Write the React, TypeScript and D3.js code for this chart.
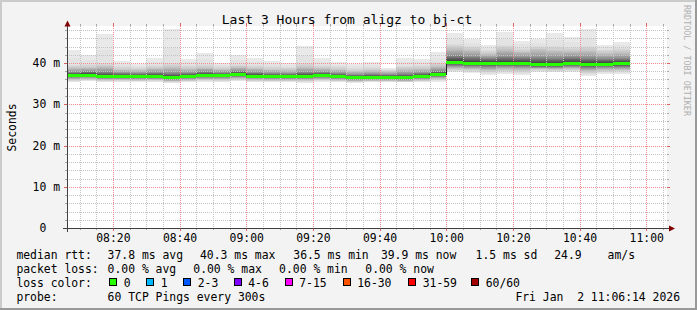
import React from "react";
import * as d3 from "d3";

// ---------- data ----------
const barEnds = [
  "08:10", "08:15", "08:20", "08:25", "08:30", "08:35", "08:40", "08:45", "08:50", "08:55",
  "09:00", "09:05", "09:10", "09:15", "09:20", "09:25", "09:30", "09:35", "09:40", "09:45",
  "09:50", "09:55", "10:00", "10:05", "10:10", "10:15", "10:20", "10:25", "10:30", "10:35",
  "10:40", "10:45", "10:50", "10:55",
];
const medianMs = [37.0, 37.2, 36.8, 36.8, 36.8, 36.8, 36.5, 36.8, 37.0, 37.0, 37.3, 36.9, 36.8, 36.8, 36.8, 37.0, 36.8, 36.5, 36.6, 36.6, 36.5, 36.8, 37.3, 40.3, 40.0, 40.0, 40.0, 40.0, 39.7, 39.7, 40.0, 39.7, 39.8, 39.9];
const maxMs = [43.1, 41.9, 47.0, 40.6, 39.8, 41.3, 48.3, 41.0, 42.5, 40.1, 42.0, 41.3, 40.5, 40.1, 44.1, 41.3, 40.2, 39.8, 40.2, 38.8, 41.3, 41.0, 42.7, 47.3, 45.9, 44.3, 47.5, 45.4, 45.9, 47.3, 46.3, 48.3, 44.4, 45.1];
const p97Ms = [39.6, 39.8, 40.0, 39.3, 39.0, 39.6, 40.0, 39.5, 39.8, 39.2, 39.8, 39.5, 39.3, 39.1, 40.0, 39.6, 39.2, 38.8, 39.1, 38.4, 39.4, 39.5, 40.2, 44.6, 44.2, 43.2, 44.5, 43.8, 44.2, 44.2, 44.0, 44.3, 43.3, 43.6];
const p90Ms = [38.8, 38.9, 39.2, 38.4, 38.3, 38.7, 39.0, 38.6, 38.9, 38.5, 39.0, 38.7, 38.4, 38.3, 39.0, 38.7, 38.4, 38.0, 38.2, 37.9, 38.5, 38.6, 39.2, 43.6, 43.2, 42.3, 43.4, 42.8, 43.3, 43.0, 42.9, 43.0, 42.4, 42.6];
const p75Ms = [37.8, 38.0, 37.9, 37.6, 37.5, 37.7, 37.6, 37.6, 37.9, 37.7, 38.1, 37.7, 37.5, 37.4, 37.8, 37.8, 37.5, 37.2, 37.3, 37.2, 37.4, 37.6, 38.1, 41.9, 41.6, 41.2, 41.6, 41.4, 41.4, 41.3, 41.5, 41.3, 41.1, 41.2];
const p25Ms = [36.5, 36.6, 36.3, 36.3, 36.3, 36.3, 36.0, 36.3, 36.5, 36.5, 36.7, 36.4, 36.3, 36.3, 36.3, 36.5, 36.3, 36.0, 36.1, 36.1, 36.0, 36.3, 36.7, 39.3, 39.2, 39.0, 39.2, 39.1, 38.9, 38.9, 39.2, 38.8, 39.0, 39.0];
const p10Ms = [36.0, 36.1, 35.9, 35.9, 35.8, 35.9, 35.6, 35.8, 36.0, 36.0, 36.2, 35.9, 35.8, 35.8, 35.8, 36.0, 35.8, 35.6, 35.7, 35.7, 35.6, 35.8, 36.2, 38.6, 38.5, 38.2, 38.4, 38.3, 38.6, 38.5, 38.6, 38.0, 38.3, 38.3];
const p03Ms = [35.6, 35.8, 35.5, 35.6, 35.6, 35.6, 35.3, 35.5, 35.7, 35.6, 35.8, 35.5, 35.5, 35.6, 35.4, 35.7, 35.6, 35.4, 35.5, 35.5, 35.4, 35.6, 35.8, 38.1, 37.9, 37.6, 37.8, 37.6, 38.1, 38.0, 38.1, 37.3, 37.7, 37.8];
const minMs = [35.4, 35.6, 35.3, 35.4, 35.5, 35.4, 35.1, 35.3, 35.5, 35.4, 35.6, 35.3, 35.3, 35.4, 35.2, 35.5, 35.4, 35.2, 35.3, 35.4, 35.3, 35.4, 35.5, 37.8, 37.6, 37.2, 37.4, 37.2, 37.8, 37.7, 37.8, 36.8, 37.4, 37.4];

const xTickLabels = ["08:20", "08:40", "09:00", "09:20", "09:40", "10:00", "10:20", "10:40", "11:00"];
const yTickValues = [0, 10, 20, 30, 40];
const yTickLabels = ["0\u00a0\u00a0", "10 m", "20 m", "30 m", "40 m"];
const lossLabels = ["0", "1", "2-3", "4-6", "7-15", "16-30", "31-59", "60/60"];
const lossColors = ["#26ff00", "#00b8ff", "#0059ff", "#7e00ff", "#ff00ff", "#ff5500", "#ff0000", "#a00000"];

const title = "Last 3 Hours from aligz to bj-ct";
const rttRow: [string, number][] = [
  ["median rtt:", 16.4], ["37.8 ms avg", 107.6], ["40.3 ms max", 200], ["36.5 ms min", 293.3],
  ["39.9 ms now", 380.9], ["1.5 ms sd", 475.6], ["24.9", 554.2], ["am/s", 607.6],
];
const lossRow: [string, number][] = [
  ["packet loss:", 16.4], ["0.00 % avg", 107.6], ["0.00 % max", 193.3], ["0.00 % min", 279.1], ["0.00 % now", 365.3],
];
const lossBoxX = [109, 146, 183, 233.5, 284.5, 342.5, 408, 471];
const probeText = "60 TCP Pings every 300s";
const dateText = "Fri Jan \u00a02 11:06:14 2026";

// ---------- layout ----------
const W = 697, H = 310;
const PL = 67, PR = 667, PB = 228, PT = 26;
const FONT = "'DejaVu Sans Mono', monospace";
const toDate = (hm: string, s = 0) => {
  const [h, m] = hm.split(":").map(Number);
  return new Date(2026, 0, 2, h, m, s);
};

export default function App() {
  const t0 = toDate("08:06", 14);
  const t1 = toDate("11:06", 14);
  const x = d3.scaleTime().domain([t0, t1]).range([PL, PR]);
  const y = d3.scaleLinear().domain([0, 49]).range([PB, PB - 49 * 4.125]);
  const qP = [0, 0.03, 0.1, 0.25, 0.5, 0.75, 0.9, 0.97, 1];

  const bars = barEnds.map((t, i) => {
    const end = toDate(t);
    const start = new Date(end.getTime() - 300000);
    const q = d3.scaleLinear().domain(qP).range([
      minMs[i], p03Ms[i], p10Ms[i], p25Ms[i], medianMs[i], p75Ms[i], p90Ms[i], p97Ms[i], maxMs[i],
    ]);
    return { x0: Math.max(x(start), PL), x1: x(end), q, med: medianMs[i] };
  });

  const half = 30;
  const smoke: any[] = [];
  for (let k = 1; k <= half; k++) {
    const g = Math.floor((190 / half) * (half - k)) + 50;
    const col = `rgb(${g},${g},${g})`;
    const p = (k - 1) / 59;
    bars.forEach((b, i) => {
      const lo = b.q(p), hi = b.q(1 - p);
      const yt = Math.round(y(hi)), yb = Math.round(y(lo));
      smoke.push(
        <rect key={`s${k}-${i}`} x={Math.round(b.x0)} width={Math.round(b.x1) - Math.round(b.x0)}
          y={yt} height={Math.max(yb - yt, 1)} fill={col} />
      );
    });
  }

  const fiveMin = x.ticks(d3.timeMinute.every(5) as any);
  const vMinor = fiveMin.filter((d: Date) => d.getMinutes() % 20 !== 0);
  const vMajor = fiveMin.filter((d: Date) => d.getMinutes() % 20 === 0);
  const hMinor = d3.range(2, 49, 2).filter((v) => v % 10 !== 0);
  const hMajor = [10, 20, 30, 40];
  const px = (v: number) => Math.round(v) + 0.5;

  let medPath = "";
  bars.forEach((b, i) => {
    const yy = Math.round(y(b.med)) + 0.5;
    medPath += i === 0 ? `M${b.x0},${yy}` : `V${yy}`;
    medPath += `H${b.x1}`;
  });

  return (
    <svg width={W} height={H} style={{ position: "absolute", left: 0, top: 0, display: "block" }}
      fontFamily={FONT}>
      <rect x={0} y={0} width={W} height={H} fill="#f3f3f3" />
      <rect x={0} y={0} width={W} height={2} fill="#cbcbcb" />
      <rect x={0} y={0} width={2} height={H} fill="#cbcbcb" />
      <rect x={0} y={H - 2} width={W} height={2} fill="#999999" />
      <rect x={W - 2} y={0} width={2} height={H} fill="#999999" />

      <rect x={PL} y={PT} width={PR - PL} height={PB - PT} fill="#ffffff" />

      <g shapeRendering="crispEdges">{smoke}</g>

      {/* grid */}
      <g strokeDasharray="1,1" strokeWidth={1} shapeRendering="crispEdges">
        {hMinor.map((v) => (
          <line key={`hm${v}`} x1={PL} x2={PR} y1={px(y(v))} y2={px(y(v))} stroke="#c4c4c4" />
        ))}
        {vMinor.map((d: Date, i: number) => (
          <line key={`vm${i}`} x1={px(x(d))} x2={px(x(d))} y1={PT} y2={PB} stroke="#c4c4c4" />
        ))}
        {hMajor.map((v) => (
          <line key={`hM${v}`} x1={PL} x2={PR} y1={px(y(v))} y2={px(y(v))} stroke="#ef8c8c" />
        ))}
        {vMajor.map((d: Date, i: number) => (
          <line key={`vM${i}`} x1={px(x(d))} x2={px(x(d))} y1={PT} y2={PB} stroke="#ef8c8c" />
        ))}
      </g>

      {/* median */}
      <path d={medPath} fill="none" stroke="#202020" strokeWidth={1} shapeRendering="crispEdges" />
      <g shapeRendering="crispEdges">
        {bars.map((b, i) => (
          <rect key={`m${i}`} x={Math.round(b.x0)} width={Math.round(b.x1) - Math.round(b.x0)}
            y={Math.round(y(b.med)) - 1} height={3} fill={lossColors[0]} />
        ))}
      </g>

      {/* ticks */}
      <g shapeRendering="crispEdges" strokeWidth={1}>
        {hMinor.map((v) => (
          <g key={`th${v}`} stroke="#a8a8a8">
            <line x1={PL - 2} x2={PL} y1={px(y(v))} y2={px(y(v))} />
            <line x1={PR} x2={PR + 2} y1={px(y(v))} y2={px(y(v))} />
          </g>
        ))}
        {hMajor.map((v) => (
          <g key={`tH${v}`} stroke="#e06060">
            <line x1={PL - 3} x2={PL} y1={px(y(v))} y2={px(y(v))} />
            <line x1={PR} x2={PR + 3} y1={px(y(v))} y2={px(y(v))} />
          </g>
        ))}
        {vMinor.map((d: Date, i: number) => (
          <g key={`tv${i}`} stroke="#a8a8a8">
            <line x1={px(x(d))} x2={px(x(d))} y1={PB} y2={PB + 2} />
            <line x1={px(x(d))} x2={px(x(d))} y1={PT - 2} y2={PT} />
          </g>
        ))}
        {vMajor.map((d: Date, i: number) => (
          <g key={`tV${i}`} stroke="#e06060">
            <line x1={px(x(d))} x2={px(x(d))} y1={PB} y2={PB + 3} />
            <line x1={px(x(d))} x2={px(x(d))} y1={PT - 3} y2={PT} />
          </g>
        ))}
      </g>

      {/* axes */}
      <g shapeRendering="crispEdges" stroke="#404040" strokeWidth={1}>
        <line x1={PL - 4} x2={PR + 3} y1={PB + 0.5} y2={PB + 0.5} />
        <line x1={PL + 0.5} x2={PL + 0.5} y1={PB + 4} y2={PT - 1} />
      </g>
      <path d={`M${PL + 0.5 - 3},${PT + 0.5} L${PL + 0.5 + 3},${PT + 0.5} L${PL + 0.5},${PT - 5.5} Z`} fill="#800000" />
      <path d={`M${PR + 2},${PB + 0.5 - 3} L${PR + 2},${PB + 0.5 + 3} L${PR + 8},${PB + 0.5} Z`} fill="#800000" />

      {/* axis labels */}
      <g fontSize={11.4} fill="#000">
        {yTickValues.map((v, i) => (
          <text key={`yl${v}`} x={60} y={y(v) + 4} textAnchor="end">
            {yTickLabels[i]}
          </text>
        ))}
        {xTickLabels.map((l) => (
          <text key={`xl${l}`} x={x(toDate(l)) + 0.5} y={241.5} textAnchor="middle">{l}</text>
        ))}
      </g>

      <text x={347} y={23.5} textAnchor="middle" fontSize={13} fill="#000">{title}</text>
      <text transform="translate(15.5,127.5) rotate(-90)" textAnchor="middle" fontSize={11.4} fill="#000">Seconds</text>
      <text transform="translate(684,5) rotate(90)" fontSize={8.4} fill="#b0b0b0">RRDTOOL / TOBI OETIKER</text>

      {/* legend */}
      <g fontSize={11.4} fill="#000">
        {rttRow.map(([s, xx]) => (
          <text key={`r${s}`} x={xx} y={258.5}>{s}</text>
        ))}
        {lossRow.map(([s, xx]) => (
          <text key={`p${s}`} x={xx} y={272.5}>{s}</text>
        ))}
        <text x={16.4} y={286.5}>loss color:</text>
        {lossLabels.map((l, i) => (
          <g key={`lc${l}`}>
            <rect x={lossBoxX[i] + 0.5} y={278.5} width={7} height={7} fill={lossColors[i]} stroke="#000"
              strokeWidth={1} shapeRendering="crispEdges" />
            <text x={lossBoxX[i] + 14.7} y={286.5}>{l}</text>
          </g>
        ))}
        <text x={16.4} y={300.5}>probe:</text>
        <text x={107.6} y={300.5}>{probeText}</text>
        <text x={680} y={300.5} textAnchor="end">{dateText}</text>
      </g>
    </svg>
  );
}
